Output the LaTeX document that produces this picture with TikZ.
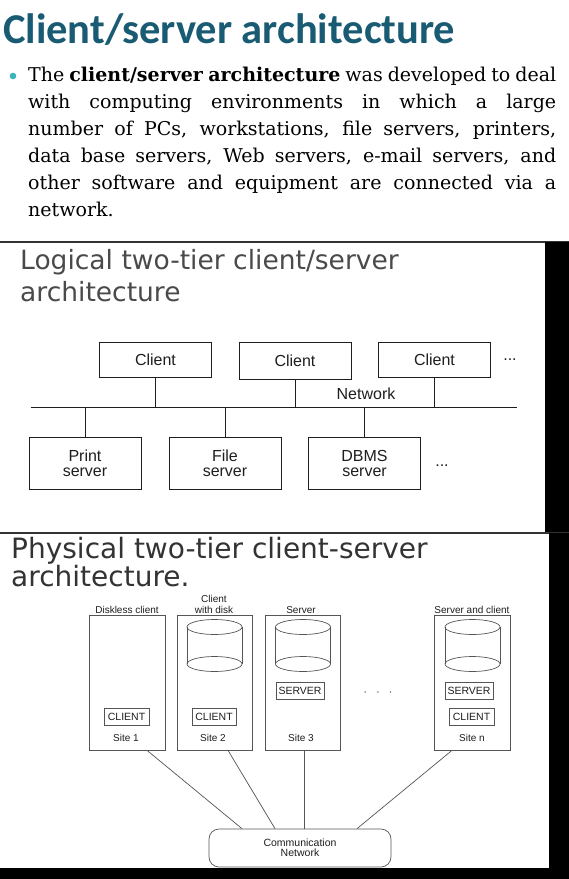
\documentclass[tikz,border=0pt]{standalone}
\usepackage{fontspec}
\setmainfont{DejaVu Serif}
\newfontfamily\titlefont{Carlito}
\newfontfamily\headfont{DejaVu Sans}
\newfontfamily\boxfont{Liberation Sans}
\usetikzlibrary{positioning,calc}
\definecolor{csteal}{HTML}{1A5B74}
\definecolor{csdot}{HTML}{3DB3BD}
\definecolor{csgray}{HTML}{4A4A4A}
\definecolor{csdark}{HTML}{333333}
\definecolor{csline}{HTML}{555555}
\definecolor{csink}{HTML}{1E1E1E}
\newcommand{\dbdisk}[3]{%
  \draw[diskline] (#1-27.5,#2) -- (#1-27.5,#3) (#1+27.5,#2) -- (#1+27.5,#3);
  \draw[diskline] (#1,#2) ellipse[x radius=27.5, y radius=7.5];
  \draw[diskline] (#1,#3) ellipse[x radius=27.5, y radius=7.5];}
\tikzset{
  tierbox/.style={draw=csink, line width=0.9pt, minimum width=112pt, inner sep=0pt,
                  align=center, text=csink, font=\boxfont\fontsize{16}{15}\selectfont},
  sitebox/.style={draw=csline, line width=0.7pt, minimum width=76pt, minimum height=135pt,
                  inner sep=0pt},
  tagbox/.style={draw=csline, line width=0.7pt, minimum height=17pt, inner sep=0pt,
                 text=csink, font=\boxfont\fontsize{10.5}{10.5}\selectfont},
  tinylbl/.style={inner sep=0pt, align=center, text=csink,
                  font=\boxfont\fontsize{10}{11}\selectfont},
  diskline/.style={draw=csline, line width=0.7pt},
  tierline/.style={draw=csink, line width=0.9pt},
  siteline/.style={draw=csline, line width=0.7pt}}
\begin{document}
\begin{tikzpicture}[x=1pt, y=1pt]
  \useasboundingbox (0,0) rectangle (569,-879);
  \fill[white] (0,0) rectangle (569,-879);
  \node[anchor=base west, inner sep=0pt, text=csteal,
        font=\titlefont\bfseries\fontsize{42.5}{42.5}\selectfont] (title) at (3,-43)
    {Client/server architecture};
  \fill[csdot] (13,-76) circle[radius=3.3];
  \node[anchor=north west, inner sep=0pt, text width=528pt, align=justify,
        font=\fontsize{19}{27}\selectfont] (intro) at (28,-67)
    {The \textbf{client/server architecture} was developed to deal\linebreak
     with computing environments in which a large\linebreak
     number of PCs, workstations, file servers, printers,\linebreak
     data base servers, Web servers, e-mail servers, and\linebreak
     other software and equipment are connected via a\linebreak
     network.};
  \draw[csdark, line width=1.5pt] (0,-242) -- (569,-242);
  \fill[black] (545,-242) rectangle (569,-533);
  \node[anchor=north west, inner sep=0pt, align=left, text=csgray,
        font=\headfont\fontsize{26.5}{32}\selectfont] (logical) at (20,-249)
    {Logical two-tier client/server\\architecture};
  \node[tierbox, minimum height=35pt] (client1) at (155.5,-359.5) {Client};
  \node[tierbox, minimum height=37pt] (client2) at (295,-361) {Client};
  \node[tierbox, minimum height=35pt] (client3) at (434.5,-359.5) {Client};
  \node[text=csink, font=\boxfont\fontsize{16}{16}\selectfont] (cdots) at (510,-360) {...};
  \coordinate (netL) at (31,-407);
  \coordinate (netR) at (517,-407);
  \draw[tierline] (netL) -- (netR);
  \node[text=csink, font=\boxfont\fontsize{16}{16}\selectfont] (netlbl) at (366,-394) {Network};
  \node[tierbox, minimum height=52pt] (print) at (85,-463) {Print\\server};
  \node[tierbox, minimum height=52pt] (file) at (225,-463) {File\\server};
  \node[tierbox, minimum height=52pt] (dbms) at (364.5,-463) {DBMS\\server};
  \node[text=csink, font=\boxfont\fontsize{16}{16}\selectfont] (sdots) at (442,-466) {...};
  \foreach \c in {client1,client2,client3}
    \draw[tierline] (\c.south) -- (\c.south |- netL);
  \foreach \s in {print,file,dbms}
    \draw[tierline] (\s.north) -- (\s.north |- netL);
  \draw[csdark, line width=1.5pt] (0,-533) -- (569,-533);
  \fill[black] (549,-533) rectangle (569,-879);
  \fill[black] (0,-868) rectangle (569,-879);
  \node[anchor=north west, inner sep=0pt, align=left, text=csdark,
        font=\headfont\fontsize{28}{28.5}\selectfont] (physical) at (11,-537)
    {Physical two-tier client-server\\architecture.};
  \node[sitebox] (site1) at (127,-682.5) {};
  \node[sitebox, minimum width=75pt] (site2) at (214.5,-682.5) {};
  \node[sitebox, minimum width=75pt] (site3) at (302.5,-682.5) {};
  \node[sitebox] (siten) at (472,-682.5) {};
  \node[tinylbl] (lbl1) at (127,-610) {Diskless client};
  \node[tinylbl] (lbl2) at (214,-604) {Client\\with disk};
  \node[tinylbl] (lbl3) at (301,-610) {Server};
  \node[tinylbl] (lbln) at (472,-610) {Server and client};
  \dbdisk{214.5}{-627}{-664}
  \dbdisk{303}{-627}{-664}
  \dbdisk{472.5}{-627}{-664}
  \node[tagbox, minimum width=48pt] (srv3) at (300,-690.5) {SERVER};
  \node[tagbox, minimum width=48pt] (srvn) at (469,-690.5) {SERVER};
  \node[tagbox, minimum width=45pt] (cli1) at (126.5,-716.5) {CLIENT};
  \node[tagbox, minimum width=44pt] (cli2) at (214,-716.5) {CLIENT};
  \node[tagbox, minimum width=45pt] (clin) at (471.5,-716.5) {CLIENT};
  \node[tinylbl] (s1lbl) at (126,-738) {Site 1};
  \node[tinylbl] (s2lbl) at (213,-738) {Site 2};
  \node[tinylbl] (s3lbl) at (301,-738) {Site 3};
  \node[tinylbl] (snlbl) at (472,-738) {Site n};
  \node[text=csink, font=\boxfont\fontsize{12}{12}\selectfont] (pdots) at (378,-693)
    {$\cdot\;\;\cdot\;\;\cdot$};
  \node[draw=csline, line width=0.7pt, rounded corners=10pt, minimum width=182pt,
        minimum height=38pt, tinylbl, font=\boxfont\fontsize{10.5}{10}\selectfont]
    (comm) at (300,-848) {Communication\\Network};
  \draw[siteline] ([xshift=20pt]site1.south) -- ([xshift=-58pt]comm.north);
  \draw[siteline] ([xshift=13.5pt]site2.south) -- ([xshift=-25pt]comm.north);
  \draw[siteline] ([xshift=1.5pt]site3.south) -- ([xshift=1.5pt]site3.south |- comm.north);
  \draw[siteline] ([xshift=-20pt]siten.south) -- ([xshift=57pt]comm.north);
\end{tikzpicture}
\end{document}
